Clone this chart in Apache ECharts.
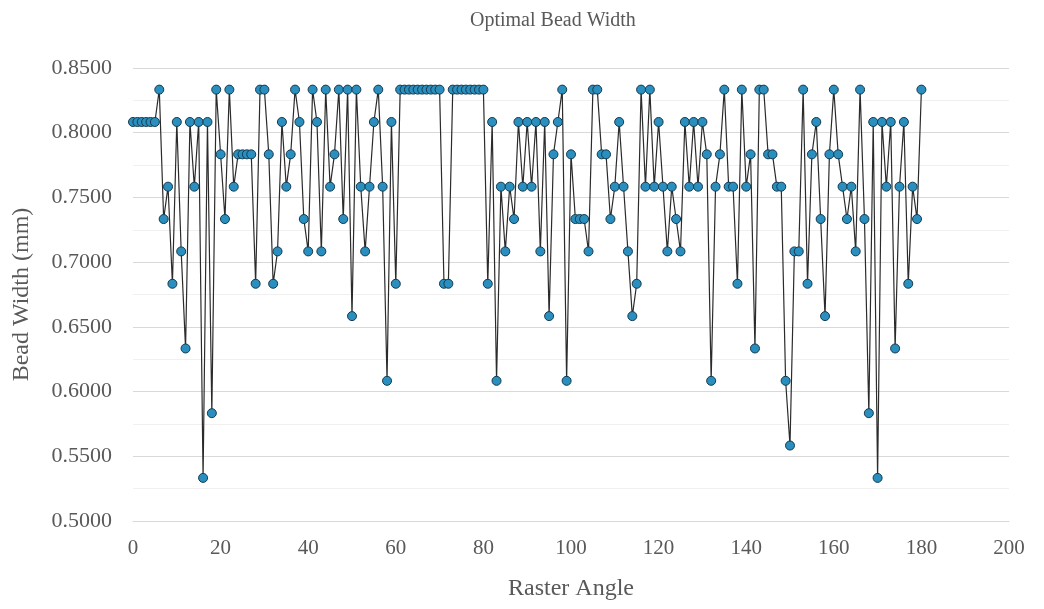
<!DOCTYPE html>
<html>
<head>
<meta charset="utf-8">
<script src="https://cdn.jsdelivr.net/npm/echarts@6/dist/echarts.min.js"></script>
<style>
html,body{margin:0;padding:0;background:#ffffff;}
#chart{width:1044px;height:609px;}
</style>
</head>
<body>
<div id="chart"></div>
<script>
var chartTitle = "Optimal Bead Width";
var xAxisName = "Raster Angle";
var yAxisName = "Bead Width (mm)";

var rasterAngles = [
  0,1,2,3,4,5,6,7,8,9,
  10,11,12,13,14,15,16,17,18,19,
  20,21,22,23,24,25,26,27,28,29,
  30,31,32,33,34,35,36,37,38,39,
  40,41,42,43,44,45,46,47,48,49,
  50,51,52,53,54,55,56,57,58,59,
  60,61,62,63,64,65,66,67,68,69,
  70,71,72,73,74,75,76,77,78,79,
  80,81,82,83,84,85,86,87,88,89,
  90,91,92,93,94,95,96,97,98,99,
  100,101,102,103,104,105,106,107,108,109,
  110,111,112,113,114,115,116,117,118,119,
  120,121,122,123,124,125,126,127,128,129,
  130,131,132,133,134,135,136,137,138,139,
  140,141,142,143,144,145,146,147,148,149,
  150,151,152,153,154,155,156,157,158,159,
  160,161,162,163,164,165,166,167,168,169,
  170,171,172,173,174,175,176,177,178,179,
  180
];

var beadWidths = [
  0.8083,0.8083,0.8083,0.8083,0.8083,0.8083,0.8333,0.7333,0.7583,0.6833,
  0.8083,0.7083,0.6333,0.8083,0.7583,0.8083,0.5333,0.8083,0.5833,0.8333,
  0.7833,0.7333,0.8333,0.7583,0.7833,0.7833,0.7833,0.7833,0.6833,0.8333,
  0.8333,0.7833,0.6833,0.7083,0.8083,0.7583,0.7833,0.8333,0.8083,0.7333,
  0.7083,0.8333,0.8083,0.7083,0.8333,0.7583,0.7833,0.8333,0.7333,0.8333,
  0.6583,0.8333,0.7583,0.7083,0.7583,0.8083,0.8333,0.7583,0.6083,0.8083,
  0.6833,0.8333,0.8333,0.8333,0.8333,0.8333,0.8333,0.8333,0.8333,0.8333,
  0.8333,0.6833,0.6833,0.8333,0.8333,0.8333,0.8333,0.8333,0.8333,0.8333,
  0.8333,0.6833,0.8083,0.6083,0.7583,0.7083,0.7583,0.7333,0.8083,0.7583,
  0.8083,0.7583,0.8083,0.7083,0.8083,0.6583,0.7833,0.8083,0.8333,0.6083,
  0.7833,0.7333,0.7333,0.7333,0.7083,0.8333,0.8333,0.7833,0.7833,0.7333,
  0.7583,0.8083,0.7583,0.7083,0.6583,0.6833,0.8333,0.7583,0.8333,0.7583,
  0.8083,0.7583,0.7083,0.7583,0.7333,0.7083,0.8083,0.7583,0.8083,0.7583,
  0.8083,0.7833,0.6083,0.7583,0.7833,0.8333,0.7583,0.7583,0.6833,0.8333,
  0.7583,0.7833,0.6333,0.8333,0.8333,0.7833,0.7833,0.7583,0.7583,0.6083,
  0.5583,0.7083,0.7083,0.8333,0.6833,0.7833,0.8083,0.7333,0.6583,0.7833,
  0.8333,0.7833,0.7583,0.7333,0.7583,0.7083,0.8333,0.7333,0.5833,0.8083,
  0.5333,0.8083,0.7583,0.8083,0.6333,0.7583,0.8083,0.6833,0.7583,0.7333,
  0.8333
];

var xTicks = { min: 0, max: 200, interval: 20 };
var yTicks = { min: 0.5, max: 0.85, interval: 0.05 };

var seriesData = rasterAngles.map(function (a, i) { return [a, beadWidths[i]]; });

var chart = echarts.init(document.getElementById('chart'), null, { renderer: 'canvas' });
var serif = '"Liberation Serif", "DejaVu Serif", "Times New Roman", serif';
chart.setOption({
  backgroundColor: '#ffffff',
  animation: false,
  title: {
    text: chartTitle,
    left: 465,
    top: 6,
    textStyle: { fontFamily: serif, fontWeight: 'normal', fontSize: 20, color: '#595959' }
  },
  grid: { left: 133, right: 35, top: 68, bottom: 88, containLabel: false },
  xAxis: {
    type: 'value',
    min: xTicks.min, max: xTicks.max, interval: xTicks.interval,
    name: xAxisName,
    nameLocation: 'middle',
    nameGap: 56,
    nameTextStyle: { fontFamily: serif, fontSize: 24, color: '#595959' },
    axisLine: { show: true, lineStyle: { color: '#d9d9d9', width: 1 } },
    axisTick: { show: false },
    axisLabel: { fontFamily: serif, fontSize: 21, color: '#595959', margin: 17 },
    splitLine: { show: false }
  },
  yAxis: {
    type: 'value',
    min: yTicks.min, max: yTicks.max, interval: yTicks.interval,
    name: yAxisName,
    nameLocation: 'middle',
    nameGap: 99,
    nameRotate: 90,
    nameTextStyle: { fontFamily: serif, fontSize: 24, color: '#595959' },
    axisLine: { show: false },
    axisTick: { show: false },
    axisLabel: {
      fontFamily: serif, fontSize: 22, color: '#595959', margin: 21,
      formatter: function (v) { return v.toFixed(4); }
    },
    splitLine: { show: true, lineStyle: { color: '#d9d9d9', width: 1 } },
    minorTick: { show: false, splitNumber: 2 },
    minorSplitLine: { show: true, lineStyle: { color: '#f0f0f0', width: 1 } }
  },
  series: [{
    type: 'line',
    data: seriesData,
    symbol: 'circle',
    symbolSize: 9,
    showAllSymbol: true,
    lineStyle: { color: '#2b2b2b', width: 1.2 },
    itemStyle: { color: '#2a8fbf', borderColor: '#123a4e', borderWidth: 1 }
  }]
});
</script>
</body>
</html>
